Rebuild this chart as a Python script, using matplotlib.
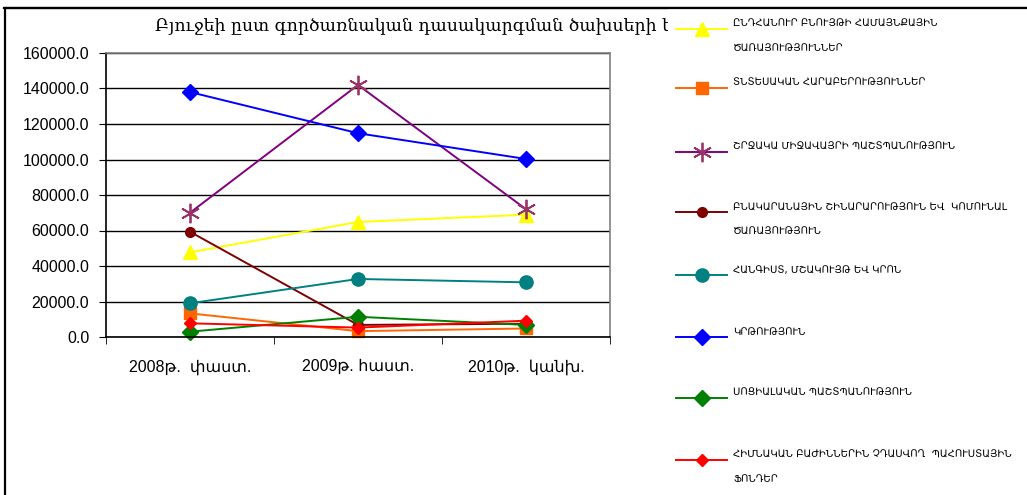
import matplotlib
matplotlib.use("Agg")
import matplotlib.pyplot as plt
from matplotlib.lines import Line2D
from matplotlib.patches import Rectangle

categories = ["2008թ.  փաստ.", "2009թ. հաստ.", "2010թ.  կանխ."]

general_services = [47700, 64800, 68900]
economic_relations = [13300, 3300, 4800]
environment = [70000, 142000, 72000]
housing = [59300, 6800, 7500]
recreation = [19000, 32700, 30800]
education = [138000, 114800, 100300]
social_protection = [3000, 11400, 6800]
reserve_funds = [7700, 5300, 9200]

legend_labels = [
    ["ԸՆԴՀԱՆՈՒՐ ԲՆՈՒՅԹԻ ՀԱՄԱՅՆՔԱՅԻՆ", "ԾԱՌԱՅՈՒԹՅՈՒՆՆԵՐ"],
    ["ՏՆՏԵՍԱԿԱՆ ՀԱՐԱԲԵՐՈՒԹՅՈՒՆՆԵՐ"],
    ["ՇՐՋԱԿԱ ՄԻՋԱՎԱՅՐԻ ՊԱՇՏՊԱՆՈՒԹՅՈՒՆ"],
    ["ԲՆԱԿԱՐԱՆԱՅԻՆ ՇԻՆԱՐԱՐՈՒԹՅՈՒՆ ԵՎ  ԿՈՄՈՒՆԱԼ", "ԾԱՌԱՅՈՒԹՅՈՒՆ"],
    ["ՀԱՆԳԻՍՏ, ՄՇԱԿՈՒՅԹ ԵՎ ԿՐՈՆ"],
    ["ԿՐԹՈՒԹՅՈՒՆ"],
    ["ՍՈՑԻԱԼԱԿԱՆ ՊԱՇՏՊԱՆՈՒԹՅՈՒՆ"],
    ["ՀԻՄՆԱԿԱՆ ԲԱԺԻՆՆԵՐԻՆ ՉԴԱՍՎՈՂ  ՊԱՀՈՒՍՏԱՅԻՆ", "ՖՈՆԴԵՐ"],
]

# visible part of the title (the rest is hidden behind the legend)
title = "Բյուջեի ըստ գործառնական դասակարգման ծախսերի ե"
yticks = [0, 20000, 40000, 60000, 80000, 100000, 120000, 140000, 160000]

series = [general_services, economic_relations, environment, housing,
          recreation, education, social_protection, reserve_funds]
styles = [
    dict(color="#FFFF00", marker="^", markersize=9.5, mfc="#FFFF00", mec="#FFFF00"),
    dict(color="#FF6600", marker="s", markersize=8.5, mfc="#FF6600", mec="#FF6600"),
    dict(color="#800080", marker=(6, 2, 0), markersize=14, mfc="none", mec="#993366", mew=1.3),
    dict(color="#800000", marker="o", markersize=7, mfc="#800000", mec="#800000"),
    dict(color="#008080", marker="o", markersize=9.5, mfc="#008080", mec="#008080"),
    dict(color="#0000FF", marker="D", markersize=8, mfc="#0000FF", mec="#0000FF"),
    dict(color="#008000", marker="D", markersize=8, mfc="#008000", mec="#008000"),
    dict(color="#FF0000", marker="D", markersize=6.5, mfc="#FF0000", mec="#FF0000"),
]

W, H = 1027, 495
fig = plt.figure(figsize=(W / 100, H / 100), dpi=100)

def fx(px):
    return px / W

def fy(py):
    return 1 - py / H

# outer frame
fig.patches.append(Rectangle((fx(5), fy(560)), fx(1100), 552 / H, transform=fig.transFigure,
                             fill=False, edgecolor="#000000", linewidth=1.6, zorder=0))

ax = fig.add_axes([fx(106), fy(337), fx(504), 284 / H])
x = [1, 2, 3]
for vals, st in zip(series, styles):
    ax.plot(x, vals, linewidth=1.4, **st, clip_on=False)

ax.set_xlim(0.5, 3.5)
ax.set_ylim(0, 160000)
ax.set_yticks(yticks)
ax.set_yticklabels([f"{v:.1f}" for v in yticks], fontsize=11.5, family=["Liberation Sans", "DejaVu Sans"])
ax.set_xticks(x)
ax.set_xticklabels(categories, fontsize=11.5, family=["Liberation Sans", "DejaVu Sans"])
ax.set_xticks([0.5, 1.5, 2.5, 3.5], minor=True)
ax.tick_params(axis="x", which="major", length=0, pad=16)
ax.tick_params(axis="x", which="minor", length=5, direction="out", color="#000000")
ax.tick_params(axis="y", length=5, direction="out", pad=7)
ax.grid(axis="y", color="#000000", linewidth=1.0)
ax.set_axisbelow(True)
for s in ["left", "bottom"]:
    ax.spines[s].set_color("#000000")
    ax.spines[s].set_linewidth(1.2)
for s in ["right", "top"]:
    ax.spines[s].set_color("#808080")
    ax.spines[s].set_linewidth(1.2)

fig.text(fx(155), fy(27), title, fontsize=12.4, family=["DejaVu Serif", "DejaVu Sans"],
         ha="left", va="center", zorder=1)

# legend area
fig.patches.append(Rectangle((fx(668), fy(600)), fx(500), 592 / H - 0.0005, transform=fig.transFigure,
                             facecolor="white", edgecolor="none", zorder=2))
fig.add_artist(Line2D([fx(4), fx(1030)], [fy(8), fy(8)], color="#000000", linewidth=1.6, zorder=3))

row_y = [29, 88, 151.5, 211.5, 275, 337, 398, 460]
for ry, st, lab in zip(row_y, styles, legend_labels):
    fig.add_artist(Line2D([fx(676), fx(727)], [fy(ry), fy(ry)], linewidth=1.4,
                          color=st["color"], zorder=4))
    fig.add_artist(Line2D([fx(701.5)], [fy(ry)], linewidth=0, zorder=5,
                          **{k: v for k, v in st.items() if k != "color"}))
    for i, line in enumerate(lab):
        fig.text(fx(733), fy(ry - 5 + 24 * i), line, fontsize=7.3, family="DejaVu Sans",
                 ha="left", va="center", zorder=6)

fig.savefig("out.png", dpi=100)
